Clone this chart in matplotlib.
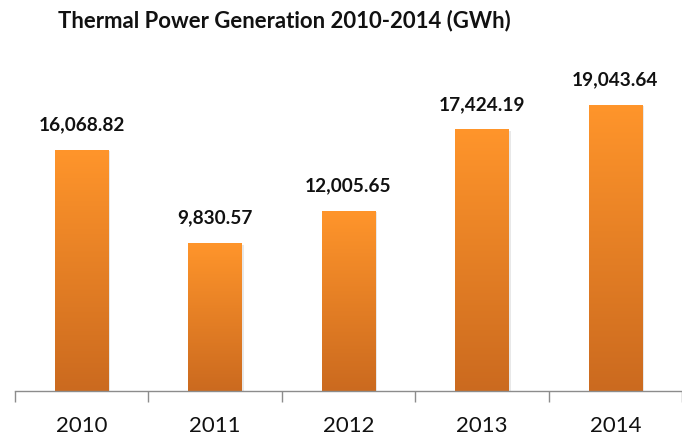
import numpy as np
import matplotlib.pyplot as plt
from matplotlib.colors import LinearSegmentedColormap

years = ["2010", "2011", "2012", "2013", "2014"]
generation = [16068.82, 9830.57, 12005.65, 17424.19, 19043.64]

plt.rcParams['font.family'] = ['Lato', 'DejaVu Sans']

fig = plt.figure(figsize=(6.82, 4.39), dpi=100)
ax = fig.add_axes([15 / 682, 47 / 439, 667 / 682, 377 / 439])

grad = LinearSegmentedColormap.from_list("orange", ["#CB6A1F", "#FF952B"])
x = np.arange(len(years))
width = 0.40
ymax = 25150

bars = ax.bar(x, generation, width=width, color="none", zorder=2)
for b in bars:
    x0, h = b.get_x(), b.get_height()
    # faint shadow to the right
    ax.add_patch(plt.Rectangle((x0 + 0.015, 0), width, h - 60,
                               color="#d9d9d9", alpha=0.6, zorder=1, lw=0))
    img = np.linspace(0, 1, 256).reshape(-1, 1)
    ax.imshow(img, cmap=grad, origin="lower", aspect="auto",
              extent=[x0, x0 + width, 0, h], zorder=2)
    ax.text(b.get_x() + width / 2, h + 1200, f"{h:,.2f}", ha="center",
            va="bottom", fontsize=13.7, fontweight="bold", color="#111111")

ax.set_xlim(-0.5, len(years) - 0.5)
ax.set_ylim(0, ymax)
ax.set_xticks(x)
ax.set_xticklabels(years, fontsize=16, color="#111111")
ax.set_xticks(np.arange(-0.5, len(years)), minor=True)
ax.tick_params(axis="x", which="major", length=0, pad=17)
ax.tick_params(axis="x", which="minor", length=8, width=1, color="#8c8c8c")
ax.set_yticks([])
for s in ["top", "right", "left"]:
    ax.spines[s].set_visible(False)
ax.spines["bottom"].set_color("#8c8c8c")
ax.spines["bottom"].set_linewidth(1)

fig.text(58 / 682, 1 - 21 / 439, "Thermal Power Generation 2010-2014 (GWh)",
         fontsize=15.9, fontweight="bold", ha="left", va="center", color="#111111")

fig.savefig("out.png", dpi=100)
